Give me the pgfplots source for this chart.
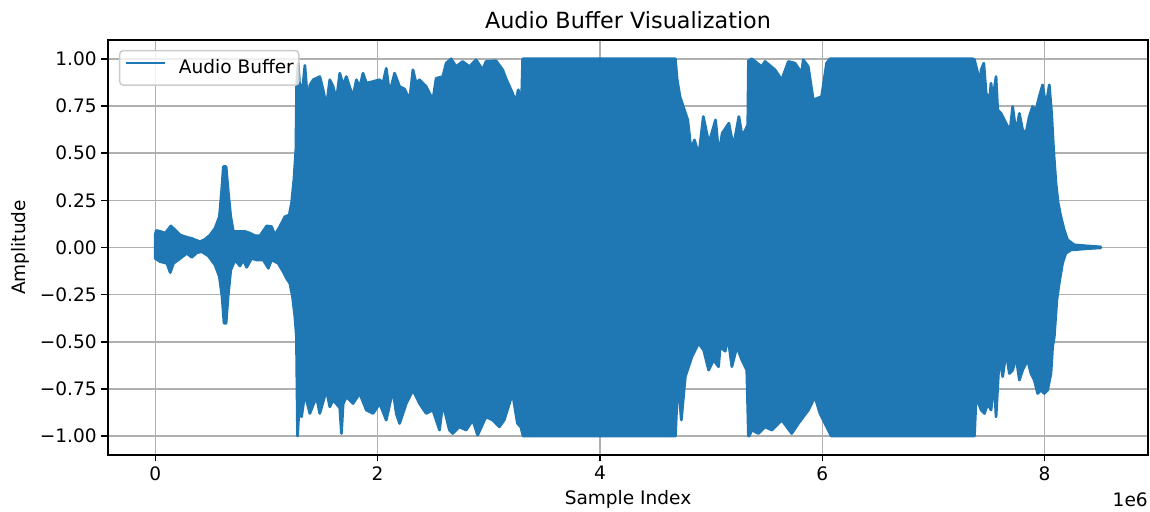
\documentclass[border=0pt]{standalone}
\usepackage{fontspec}
\setmainfont{DejaVu Sans}
\usepackage{pgfplots}
\pgfplotsset{compat=1.18}
\definecolor{mplblue}{RGB}{31,119,180}
\definecolor{mplgrid}{RGB}{176,176,176}
\begin{document}
\begin{tikzpicture}
\path[use as bounding box] (-78.05pt,-41.19pt) rectangle (753.05pt,328.8pt);
\begin{axis}[
  name=ax,
  at={(0,0)}, anchor=south west,
  scale only axis, width=751.6pt, height=299.9pt,
  xmin=-0.425, xmax=8.93, ymin=-1.1, ymax=1.1,
  xtick={0,2,4,6,8}, ytick={-1,-0.75,-0.5,-0.25,0,0.25,0.5,0.75,1},
  xticklabels={0,2,4,6,8},
  yticklabels={−1.00,−0.75,−0.50,−0.25,0.00,0.25,0.50,0.75,1.00},
  tick pos=left, tick align=outside, major tick length=4.7pt,
  every tick/.style={black, line width=1.07pt},
  axis line style={line width=1.07pt},
  grid=major, major grid style={mplgrid, line width=1.07pt},
  ticklabel style={font=\fontsize{13.4pt}{16pt}\selectfont},
  xlabel={Sample Index}, ylabel={Amplitude},
  label style={font=\fontsize{13.4pt}{16pt}\selectfont},
  xlabel style={at={(axis description cs:0.5,-0.1204)}, anchor=base},
  ylabel style={at={(axis description cs:-0.0798,0.5)}, anchor=base, rotate=0},
  legend style={at={(axis description cs:0,1)}, anchor=north west, xshift=7.95pt, yshift=-7.2pt,
    draw=black!20, line width=1.07pt, rounded corners=2.5pt, fill=white, fill opacity=0.8, text opacity=1,
    font=\fontsize{13.4pt}{16pt}\selectfont, inner xsep=3.6pt, inner ysep=6.6pt,
    nodes={inner sep=0pt},
    /tikz/every odd column/.append style={column sep=9pt}},
  legend image code/.code={\draw[#1] (-2pt,3.6pt) -- (26.2pt,3.6pt);},
  legend cell align=left,
]
\addplot[draw=mplblue, fill=mplblue, line width=2pt, line join=round, forget plot] coordinates {
(0,0.07) (0.01,0.09) (0.045,0.085) (0.09,0.076) (0.14,0.114) (0.179,0.093) (0.224,0.066) (0.284,0.054) (0.329,0.048) (0.359,0.040) (0.404,0.031) (0.448,0.043) (0.493,0.066) (0.538,0.102) (0.577,0.163) (0.598,0.305) (0.613,0.429) (0.637,0.429) (0.658,0.288) (0.679,0.163) (0.703,0.085) (0.762,0.085) (0.807,0.085) (0.852,0.076) (0.897,0.062) (0.942,0.062) (0.978,0.093) (1.002,0.114) (1.046,0.111) (1.076,0.066) (1.121,0.111) (1.166,0.163) (1.205,0.172) (1.226,0.234) (1.247,0.358) (1.265,0.517)
(1.272,0.87) (1.286,0.977) (1.301,0.836) (1.331,0.871) (1.346,0.965) (1.361,0.85) (1.376,0.782) (1.391,0.86) (1.421,0.889) (1.480,0.906) (1.510,0.836) (1.540,0.747) (1.570,0.889) (1.600,0.853) (1.630,0.782) (1.660,0.924) (1.690,0.86) (1.719,0.906) (1.749,0.85) (1.779,0.80) (1.809,0.889) (1.839,0.85) (1.869,0.924) (1.899,0.871) (1.959,0.880) (2.019,0.889) (2.048,0.87) (2.078,0.950) (2.108,0.818) (2.153,0.924) (2.198,0.853) (2.243,0.84) (2.288,0.782) (2.318,0.942) (2.347,0.87) (2.377,0.889) (2.437,0.853) (2.497,0.782) (2.527,0.897) (2.587,0.906) (2.617,0.977) (2.661,1.0) (2.706,0.959) (2.766,0.986) (2.826,0.959) (2.886,0.995) (2.945,0.942) (2.975,0.986) (3.065,0.990) (3.125,0.942) (3.16,0.889) (3.214,0.818) (3.243,0.773) (3.265,0.836) (3.28,0.8) (3.295,0.78)
(3.305,1.0) (4.679,1.0)
(4.68,0.99) (4.695,0.889) (4.72,0.80) (4.75,0.747) (4.79,0.676) (4.82,0.517) (4.85,0.570) (4.89,0.491) (4.93,0.694) (4.98,0.553) (5.04,0.676) (5.07,0.491) (5.10,0.606) (5.16,0.659) (5.20,0.535) (5.25,0.694) (5.28,0.588) (5.33,0.65)
(5.336,0.99) (5.366,1.0) (5.455,0.959) (5.485,0.986) (5.575,0.942) (5.635,0.889) (5.695,0.986) (5.755,0.977) (5.814,0.924) (5.829,0.995) (5.874,0.959) (5.919,0.782) (5.994,0.80) (6.039,0.977)
(6.069,1.0) (7.354,1.0)
(7.369,0.995) (7.399,0.924) (7.414,0.818) (7.429,0.942) (7.453,0.977) (7.474,0.818) (7.504,0.782) (7.518,0.871) (7.533,0.782) (7.563,0.906) (7.578,0.729) (7.608,0.711) (7.638,0.676) (7.668,0.641) (7.683,0.588) (7.713,0.747) (7.743,0.606) (7.773,0.711) (7.802,0.623) (7.832,0.606) (7.862,0.694) (7.892,0.747) (7.922,0.729) (7.952,0.80) (7.982,0.862) (8.012,0.747) (8.042,0.862) (8.063,0.711) (8.081,0.517) (8.102,0.341) (8.122,0.235) (8.146,0.164) (8.176,0.094) (8.206,0.041) (8.266,0.014) (8.386,0.008) (8.505,0.003)
(8.505,-0.002) (8.386,-0.006) (8.266,-0.012) (8.236,-0.013) (8.191,-0.031) (8.161,-0.084) (8.131,-0.19) (8.11,-0.279) (8.087,-0.473) (8.072,-0.526) (8.057,-0.668) (8.027,-0.756) (7.997,-0.774) (7.967,-0.756) (7.937,-0.774) (7.907,-0.703) (7.877,-0.668) (7.847,-0.597) (7.802,-0.650) (7.773,-0.703) (7.743,-0.579) (7.713,-0.650) (7.683,-0.668) (7.653,-0.553) (7.623,-0.685) (7.593,-0.579) (7.563,-0.898) (7.548,-0.703) (7.518,-0.862) (7.489,-0.827) (7.459,-0.880) (7.429,-0.862) (7.384,-0.791) (7.369,-1.0)
(6.083,-1.0) (6.069,-0.986) (6.024,-0.933) (5.979,-0.880) (5.934,-0.791) (5.875,-0.862) (5.785,-0.933) (5.725,-0.986) (5.636,-0.915) (5.546,-0.968) (5.486,-0.951) (5.426,-0.986) (5.366,-0.968) (5.342,-1.0)
(5.336,-1.0) (5.321,-0.650) (5.277,-0.597) (5.232,-0.526) (5.187,-0.632) (5.151,-0.473) (5.127,-0.55) (5.082,-0.526) (5.067,-0.632) (5.022,-0.597) (4.978,-0.650) (4.933,-0.544) (4.888,-0.508) (4.828,-0.579) (4.768,-0.685) (4.732,-0.915) (4.709,-0.738) (4.694,-0.80) (4.679,-1.0)
(3.309,-1.0) (3.288,-0.951) (3.258,-0.933) (3.214,-0.774) (3.139,-0.915) (3.095,-0.951) (3.035,-0.915) (2.975,-0.898) (2.900,-0.995) (2.856,-0.915) (2.796,-0.968) (2.736,-0.951) (2.676,-0.986) (2.646,-0.968) (2.617,-0.898) (2.587,-0.827) (2.557,-0.968) (2.497,-0.862) (2.437,-0.880) (2.377,-0.827) (2.318,-0.756) (2.258,-0.827) (2.198,-0.933) (2.168,-0.880) (2.138,-0.756) (2.078,-0.915) (2.019,-0.827) (1.959,-0.880) (1.899,-0.862) (1.839,-0.774) (1.779,-0.827) (1.719,-0.791) (1.690,-0.83) (1.675,-0.986) (1.660,-0.85) (1.600,-0.809) (1.570,-0.845) (1.540,-0.756) (1.480,-0.880) (1.450,-0.791) (1.391,-0.880) (1.346,-0.774) (1.316,-0.898) (1.301,-0.774) (1.28,-1.0)
(1.27,-0.473) (1.256,-0.367) (1.235,-0.261) (1.211,-0.19) (1.181,-0.164) (1.151,-0.129) (1.106,-0.084) (1.046,-0.066) (1.017,-0.11) (0.972,-0.066) (0.912,-0.066) (0.867,-0.058) (0.822,-0.105) (0.792,-0.066) (0.762,-0.098) (0.718,-0.066) (0.679,-0.120) (0.655,-0.261) (0.637,-0.402) (0.619,-0.402) (0.601,-0.261) (0.577,-0.155) (0.538,-0.093) (0.478,-0.045) (0.418,-0.022) (0.374,-0.028) (0.329,-0.052) (0.284,-0.031) (0.224,-0.058) (0.164,-0.084) (0.135,-0.133) (0.105,-0.084) (0.045,-0.075) (0,-0.058)
} -- cycle;
\addlegendimage{draw=mplblue, line width=2pt}
\addlegendentry{Audio Buffer}
\end{axis}
\node[anchor=base, font=\fontsize{16.1pt}{19pt}\selectfont, inner sep=0pt] at ([yshift=8.4pt]ax.north) {Audio Buffer Visualization};
\node[anchor=base east, font=\fontsize{13.4pt}{16pt}\selectfont, inner sep=0pt] at ([yshift=-37.3pt]ax.south east) {1e6};
\end{tikzpicture}
\end{document}
